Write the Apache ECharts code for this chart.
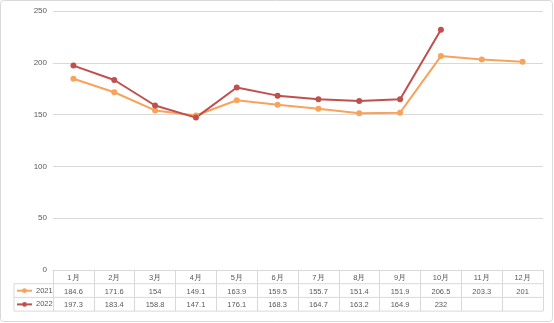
<!DOCTYPE html>
<html><head><meta charset="utf-8">
<script src="https://cdn.jsdelivr.net/npm/echarts@6/dist/echarts.min.js"></script>
<style>html,body{margin:0;padding:0;background:#fff}#c{width:554px;height:323px}</style>
</head><body><div id="c"></div>
<script>
const categories = ['1月','2月','3月','4月','5月','6月','7月','8月','9月','10月','11月','12月'];
const seriesNames = ['2021','2022'];
const values2021 = [184.6,171.6,154,149.1,163.9,159.5,155.7,151.4,151.9,206.5,203.3,201];
const values2022 = [197.3,183.4,158.8,147.1,176.1,168.3,164.7,163.2,164.9,232,null,null];
const yTicks = [0,50,100,150,200,250];

const GL = 53, GR = 543, GT = 11, GB = 270;
const ROW = 13.7;
const lineC = '#d9d9d9', textC = '#595959';
const font = 'Liberation Sans, Arial, sans-serif';

const chart = echarts.init(document.getElementById('c'));
chart.setOption({
  animation: false,
  textStyle: {fontFamily: font},
  grid: {left: GL, right: 554 - GR, top: GT, bottom: 323 - GB},
  legend: {
    orient: 'vertical', left: 16, top: GB + ROW + 3, padding: 0, itemWidth: 15, itemHeight: 6, itemGap: 5.7,
    data: seriesNames,
    textStyle: {fontSize: 7.5, color: textC, lineHeight: 8, padding: [0,0,0,-1]}
  },
  xAxis: {
    type: 'category', data: categories, boundaryGap: true,
    axisLine: {lineStyle: {color: lineC}},
    axisTick: {show: true, alignWithLabel: false, interval: 0, length: ROW * 3, lineStyle: {color: lineC}},
    axisLabel: {
      interval: 0, margin: 1, color: textC, fontSize: 7.5, lineHeight: ROW, verticalAlign: 'top',
      formatter: function (v, i) {
        const a = values2021[i] == null ? '' : values2021[i];
        const b = values2022[i] == null ? '' : values2022[i];
        return v + '\n' + a + '\n' + b;
      }
    }
  },
  yAxis: {
    type: 'value', min: yTicks[0], max: yTicks[yTicks.length - 1], interval: 50,
    axisLine: {show: false}, axisTick: {show: false},
    axisLabel: {color: textC, fontSize: 8, margin: 6},
    splitLine: {lineStyle: {color: lineC}}
  },
  series: [
    {name: seriesNames[0], type: 'line', data: values2021, symbol: 'circle', symbolSize: 6,
     itemStyle: {color: '#F7A35C'}, lineStyle: {width: 2, color: '#F7A35C'}},
    {name: seriesNames[1], type: 'line', data: values2022, symbol: 'circle', symbolSize: 6,
     itemStyle: {color: '#C0504D'}, lineStyle: {width: 2, color: '#C0504D'}}
  ],
  graphic: [
    {type: 'rect', shape: {x: 0.5, y: 0.5, width: 552, height: 321, r: 3}, style: {fill: null, stroke: lineC, lineWidth: 1}, silent: true},
    {type: 'line', shape: {x1: 14, y1: GB + ROW, x2: GR, y2: GB + ROW}, style: {stroke: lineC}},
    {type: 'line', shape: {x1: 14, y1: GB + 2 * ROW, x2: GR, y2: GB + 2 * ROW}, style: {stroke: lineC}},
    {type: 'line', shape: {x1: 14, y1: GB + 3 * ROW, x2: GR, y2: GB + 3 * ROW}, style: {stroke: lineC}},
    {type: 'line', shape: {x1: 14, y1: GB + ROW, x2: 14, y2: GB + 3 * ROW}, style: {stroke: lineC}}
  ]
});
</script></body></html>
